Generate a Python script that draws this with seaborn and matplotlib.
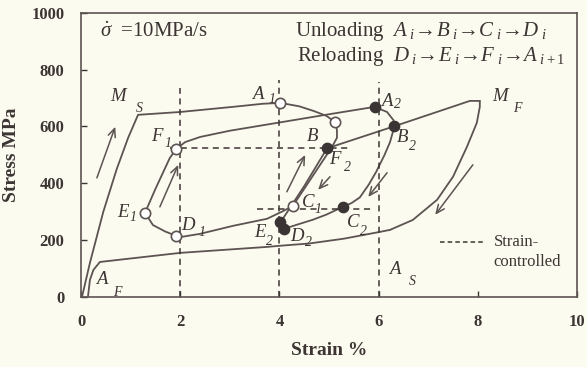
import matplotlib
matplotlib.use("Agg")
import matplotlib.pyplot as plt
import seaborn as sns

# ---- stress-strain curves (strain %, stress MPa) ----
load_x = [0.02, 0.18, 0.45, 0.72, 0.95, 1.15, 2.0, 3.06, 3.67, 4.02]
load_y = [0, 120, 300, 450, 560, 641, 651, 669, 680, 683]

a1_b1_x = [4.02, 4.4, 4.7, 4.95, 5.12]
a1_b1_y = [683, 671, 654, 637, 616]
b1_c1_x = [5.12, 5.16, 5.16, 5.06, 4.27]
b1_c1_y = [616, 588, 560, 528, 320]
c1_d1_x = [4.27, 4.05, 3.75, 3.06, 2.4, 2.05, 1.92]
c1_d1_y = [320, 300, 275, 250, 222, 212, 215]
d1_e1_x = [1.92, 1.7, 1.45, 1.29]
d1_e1_y = [215, 230, 253, 296]
e1_f1_x = [1.29, 1.5, 1.79, 1.92]
e1_f1_y = [296, 380, 489, 521]
f1_a2_x = [1.92, 2.1, 2.4, 3.0, 4.0, 5.0, 5.92]
f1_a2_y = [521, 545, 563, 585, 614, 643, 669]

a2_b2_x = [5.92, 6.17, 6.3, 6.32]
a2_b2_y = [669, 651, 622, 601]
b2_c2_x = [6.32, 6.23, 6.12, 5.95, 5.8, 5.62, 5.45, 5.28]
b2_c2_y = [601, 545, 500, 440, 395, 350, 330, 317]
c2_d2_x = [5.28, 4.95, 4.68, 4.35, 4.1]
c2_d2_y = [317, 290, 272, 254, 240]
d2_f2_x = [4.1, 4.02, 4.5, 4.96]
d2_f2_y = [240, 262, 390, 523]
f2_mf_x = [4.96, 6.32, 7.84, 8.04]
f2_mf_y = [523, 601, 690, 690]

mf_as_x = [8.04, 8.04, 7.98, 7.78, 7.5, 7.18, 6.69, 6.23]
mf_as_y = [690, 669, 613, 528, 423, 342, 271, 236]
as_af_x = [6.23, 6.0, 5.3, 4.6, 4.01, 3.75, 2.0, 0.38, 0.25, 0.18, 0.14]
as_af_y = [236, 228, 205, 188, 180, 176, 155, 123, 95, 60, 0]

# ---- marked states ----
open_x = [4.02, 5.12, 4.27, 1.92, 1.29, 1.92]      # A1 B1 C1 D1 E1 F1
open_y = [683, 616, 320, 215, 296, 521]
filled_x = [5.92, 6.32, 5.28, 4.1, 4.02, 4.96]     # A2 B2 C2 D2 E2 F2
filled_y = [669, 601, 317, 240, 262, 523]

# ---- strain-controlled guides ----
vguide_x = [2, 4, 6]
vguide_top = [735, 764, 757]
hguide_y = [525, 310]
hguide_x0 = [1.8, 3.55]
hguide_x1 = [5.38, 5.89]

# ---- loading direction arrows (tail x, tail y, head x, head y) ----
arrow_tail_x = [0.32, 1.59, 4.15, 5.02, 6.17, 7.9]
arrow_tail_y = [419, 317, 370, 423, 437, 465]
arrow_head_x = [0.69, 1.96, 4.52, 4.78, 5.79, 7.14]
arrow_head_y = [599, 465, 500, 377, 352, 289]

# ---- point labels: main letter, subscript ----
label_main = ["M", "A", "F", "E", "D", "A", "B", "F", "C", "C", "E", "D", "B", "M", "A", "A"]
label_sub = ["S", "1", "1", "1", "1", "2", "", "2", "1", "2", "2", "2", "2", "F", "S", "F"]

x_ticks = [0, 2, 4, 6, 8, 10]
y_ticks = [0, 200, 400, 600, 800, 1000]

BG = "#fbfbef"
INK = "#5c5352"
TXT = "#3d3434"
SERIF = "Liberation Serif"

sns.set_theme(style="white")
plt.rcParams["font.family"] = [SERIF, "DejaVu Serif"]
plt.rcParams["mathtext.fontset"] = "custom"
plt.rcParams["mathtext.rm"] = SERIF
plt.rcParams["mathtext.it"] = SERIF + ":italic"
plt.rcParams["mathtext.bf"] = SERIF + ":bold"

fig = plt.figure(figsize=(5.87, 3.67), dpi=100, facecolor=BG)
ax = fig.add_axes([0.138, 0.191, 0.845, 0.774], facecolor=BG)

curves = [
    (load_x, load_y), (a1_b1_x, a1_b1_y), (b1_c1_x, b1_c1_y), (c1_d1_x, c1_d1_y),
    (d1_e1_x, d1_e1_y), (e1_f1_x, e1_f1_y), (f1_a2_x, f1_a2_y),
    (a2_b2_x, a2_b2_y), (b2_c2_x, b2_c2_y), (c2_d2_x, c2_d2_y), (d2_f2_x, d2_f2_y),
    (f2_mf_x, f2_mf_y), (mf_as_x, mf_as_y), (as_af_x, as_af_y),
]
for cx, cy in curves:
    sns.lineplot(x=cx, y=cy, sort=False, estimator=None, color=INK, lw=1.3, ax=ax)

dash = (0, (4, 3))
for gx, top in zip(vguide_x, vguide_top):
    sns.lineplot(x=[gx, gx], y=[0, top], sort=False, estimator=None,
                 color=TXT, lw=1.1, linestyle=dash, ax=ax)
for gy, x0, x1 in zip(hguide_y, hguide_x0, hguide_x1):
    sns.lineplot(x=[x0, x1], y=[gy, gy], sort=False, estimator=None,
                 color=TXT, lw=1.1, linestyle=dash, ax=ax)

sns.scatterplot(x=open_x, y=open_y, s=55, color="white", edgecolor=INK,
                linewidth=1.2, zorder=5, ax=ax)
sns.scatterplot(x=filled_x, y=filled_y, s=55, color="#3b3434", edgecolor="#3b3434",
                linewidth=1.0, zorder=5, ax=ax)

for tx, ty, hx, hy in zip(arrow_tail_x, arrow_tail_y, arrow_head_x, arrow_head_y):
    ax.annotate("", xy=(hx, hy), xytext=(tx, ty),
                arrowprops=dict(arrowstyle="->,head_length=0.5,head_width=0.22",
                                color=INK, lw=1.1, shrinkA=0, shrinkB=0))

# label placement: (main x, main y, sub x, sub y)
label_pos = [
    (0.75, 704, 1.17, 665), (3.57, 711, 3.85, 694), (1.53, 563, 1.75, 539),
    (0.85, 296, 1.05, 278), (2.16, 253, 2.44, 225), (6.17, 687, 6.39, 676),
    (4.66, 563, 4.86, 545), (5.12, 482, 5.38, 454), (4.58, 331, 4.78, 306),
    (5.48, 261, 5.69, 229), (3.61, 225, 3.81, 194), (4.35, 211, 4.58, 190),
    (6.49, 560, 6.69, 528), (8.45, 704, 8.79, 665), (6.33, 95, 6.67, 53),
    (0.42, 60, 0.73, 14),
]
for main, sub, (mx, my, sx, sy) in zip(label_main, label_sub, label_pos):
    ax.text(mx, my, main, fontsize=13.5, style="italic", color=TXT,
            ha="center", va="center")
    if sub:
        ax.text(sx, sy, sub, fontsize=10, style="italic", color=TXT,
                ha="center", va="center")

ax.text(0.38, 933, r"$\dot{\sigma}$  =10MPa/s", fontsize=15, color=TXT,
        ha="left", va="center")
ax.text(4.31, 933,
        r"Unloading  $A_{\ i}\!\rightarrow\! B_{\ i}\!\rightarrow\! C_{\ i}\!\rightarrow\! D_{\ i}$",
        fontsize=15, color=TXT, ha="left", va="center")
ax.text(4.35, 846,
        r"Reloading  $D_{\ i}\!\rightarrow\! E_{\ i}\!\rightarrow\! F_{\ i}\!\rightarrow\! A_{\ i+1}$",
        fontsize=15, color=TXT, ha="left", va="center")

sns.lineplot(x=[7.24, 8.1], y=[194, 194], sort=False, estimator=None,
             color=TXT, lw=1.1, linestyle=(0, (3, 2)), ax=ax)
ax.text(8.32, 194, "Strain-", fontsize=12, color=TXT, ha="left", va="center")
ax.text(8.32, 123, "controlled", fontsize=12, color=TXT, ha="left", va="center")

ax.set_xlim(0, 10)
ax.set_ylim(0, 1000)
ax.set_xticks(x_ticks)
ax.set_yticks(y_ticks)
ax.set_xticklabels([str(v) for v in x_ticks], fontsize=12, fontweight="bold", color=TXT)
ax.set_yticklabels([str(v) for v in y_ticks], fontsize=12, fontweight="bold", color=TXT)
ax.tick_params(axis="both", direction="in", length=4, width=1, color=TXT,
               bottom=True, left=True, top=False, right=False)
ax.tick_params(axis="x", pad=12)
ax.tick_params(axis="y", pad=12)
for sp in ax.spines.values():
    sp.set_color(INK)
    sp.set_linewidth(1.2)
ax.set_xlabel("Strain %", fontsize=14, fontweight="bold", color=TXT, labelpad=9)
ax.set_ylabel("Stress MPa", fontsize=14, fontweight="bold", color=TXT, labelpad=8)

fig.savefig("out.png", dpi=100, facecolor=BG)
